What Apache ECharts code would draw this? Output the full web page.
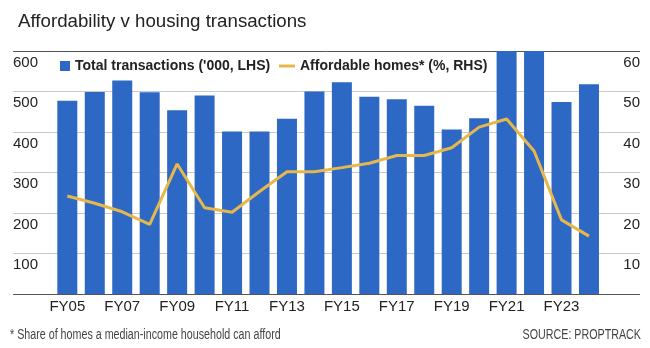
<!DOCTYPE html>
<html>
<head>
<meta charset="utf-8">
<script src="https://cdn.jsdelivr.net/npm/echarts@6/dist/echarts.min.js"></script>
<style>
html,body{margin:0;padding:0;background:#fff;}
#chart{width:650px;height:348px;}
</style>
</head>
<body>
<div id="chart"></div>
<script>
const categories = ['FY05','FY06','FY07','FY08','FY09','FY10','FY11','FY12','FY13','FY14','FY15','FY16','FY17','FY18','FY19','FY20','FY21','FY22','FY23','FY24'];
const transactions = [477,499,527,498,454,490,401,401,433,500,523,487,481,465,406,434,600,600,474,518];
const affordable = [24.2,22.4,20.3,17.2,32.1,21.3,20.2,25.3,30.2,30.2,31.2,32.3,34.2,34.2,36.1,41.2,43.2,35.3,18.3,14.3];
const leftTicks = [0,100,200,300,400,500,600];
const rightTicks = [0,10,20,30,40,50,60];
const titleText = 'Affordability v housing transactions';
const footnote = '* Share of homes a median-income household can afford';
const sourceText = 'SOURCE: PROPTRACK';
const barName = "Total transactions ('000, LHS)";
const lineName = 'Affordable homes* (%, RHS)';

const BLUE = '#2d68c4';
const GOLD = '#e6b84c';
const TXT = '#222';
const MAIN = '"Liberation Sans", Arial, sans-serif';

const chart = echarts.init(document.getElementById('chart'), null, {renderer: 'canvas'});
const option = {
  animation: false,
  backgroundColor: '#fff',
  textStyle: {fontFamily: MAIN},
  title: {
    text: titleText, left: 13, top: 7,
    textStyle: {fontFamily: MAIN, fontSize: 18.7, fontWeight: 'normal', color: TXT}
  },
  legend: [
    {
      data: [{name: barName, icon: 'rect'}],
      left: 60, top: 59, padding: 0, itemWidth: 10, itemHeight: 10,
      textStyle: {fontFamily: MAIN, fontSize: 14, fontWeight: 'bold', color: TXT}
    },
    {
      data: [{name: lineName, icon: 'rect'}],
      left: 279, top: 59, padding: 0, itemWidth: 16, itemHeight: 3,
      textStyle: {fontFamily: MAIN, fontSize: 14, fontWeight: 'bold', color: TXT}
    }
  ],
  grid: [
    {left: 13, right: 10, top: 51, bottom: 54},
    {left: 53.6, right: 47.3, top: 51, bottom: 54}
  ],
  xAxis: [
    {gridIndex: 0, type: 'value', min: 0, max: 1, show: false},
    {
      gridIndex: 1, type: 'category', data: categories,
      axisLine: {show: false}, axisTick: {show: false},
      axisLabel: {interval: 1, color: TXT, fontFamily: MAIN, fontSize: 15, margin: 5}
    }
  ],
  yAxis: [
    {
      gridIndex: 0, type: 'value', min: 0, max: 600, interval: 100,
      axisLine: {show: false}, axisTick: {show: false}, axisLabel: {show: false},
      splitLine: {show: true, lineStyle: {width: 1, color: ['#555','#c8c8c8','#c8c8c8','#c8c8c8','#c8c8c8','#c8c8c8','#555']}}
    },
    {
      gridIndex: 1, type: 'value', position: 'left', min: 0, max: 600, interval: 100,
      axisLine: {show: false}, axisTick: {show: false}, splitLine: {show: false},
      axisLabel: {
        color: TXT, fontFamily: MAIN, fontSize: 15, align: 'left', verticalAlign: 'top',
        margin: 40.6, padding: [4,0,0,0],
        formatter: v => (leftTicks.indexOf(v) > 0 ? String(v) : '')
      }
    },
    {
      gridIndex: 1, type: 'value', position: 'right', min: 0, max: 60, interval: 10,
      axisLine: {show: false}, axisTick: {show: false}, splitLine: {show: false},
      axisLabel: {
        color: TXT, fontFamily: MAIN, fontSize: 15, align: 'right', verticalAlign: 'top',
        margin: 37.3, padding: [4,0,0,0],
        formatter: v => (rightTicks.indexOf(v) > 0 ? String(v) : '')
      }
    }
  ],
  series: [
    {
      name: barName, type: 'bar', xAxisIndex: 1, yAxisIndex: 1,
      data: transactions, barWidth: 20, itemStyle: {color: BLUE}
    },
    {
      name: lineName, type: 'line', xAxisIndex: 1, yAxisIndex: 2,
      data: affordable, symbol: 'none', smooth: false,
      lineStyle: {color: GOLD, width: 3}, itemStyle: {color: GOLD}
    }
  ],
  graphic: [
    {type: 'text', x: 10, y: 335, scaleX: 0.765,
     style: {text: footnote, fill: '#444', font: '14px ' + MAIN, textAlign: 'left', textVerticalAlign: 'middle'}},
    {type: 'text', x: 641, y: 335, scaleX: 0.765,
     style: {text: sourceText, fill: '#444', font: '14px ' + MAIN, textAlign: 'right', textVerticalAlign: 'middle'}}
  ]
};
chart.setOption(option);
</script>
</body>
</html>
